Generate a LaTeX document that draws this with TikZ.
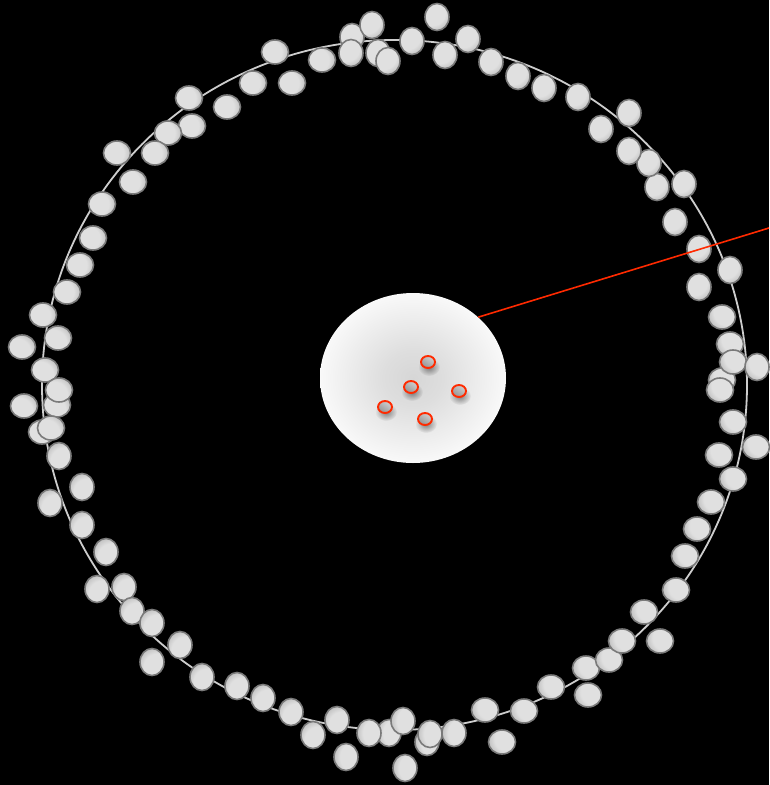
\documentclass[tikz,border=0pt]{standalone}
\usetikzlibrary{shapes.geometric,fadings}

\definecolor{pebblelight}{HTML}{E0E0E0}
\definecolor{pebbledark}{HTML}{7E7E7E}
\definecolor{pebblerim}{HTML}{7A7A7A}
\definecolor{ringgray}{HTML}{CDCDCD}
\definecolor{signalred}{HTML}{FF2A00}

% light face with a darker crescent on one side (rotated by shading angle)
\pgfdeclareradialshading{pebbleshade}{\pgfpoint{0bp}{20bp}}{%
  color(0bp)=(pebblelight); color(26bp)=(pebblelight);
  color(60bp)=(pebbledark); color(80bp)=(pebbledark)}
% soft grey centre fading to white
\pgfdeclareradialshading{coreglow}{\pgfpoint{0bp}{0bp}}{%
  color(0bp)=(black!16); color(8bp)=(black!13);
  color(29bp)=(white); color(50bp)=(white)}
% soft-edged spot for drop shadows
\tikzfading[name=softspot, inner color=transparent!0, outer color=transparent!100]

\tikzset{
  pebble/.style={ellipse, inner sep=0pt, draw=pebblerim, line width=1.6pt,
                 shade, shading=pebbleshade},
  wide/.style={pebble, minimum width=27pt, minimum height=24pt},
  tall/.style={pebble, minimum width=24pt, minimum height=27pt},
  ring/.style={draw=ringgray, line width=1.8pt},
  core/.style={ellipse, inner sep=0pt, minimum width=186pt, minimum height=170pt,
               shade, shading=coreglow},
  seed/.style={ellipse, inner sep=0pt, minimum width=14pt, minimum height=12pt,
               draw=signalred, line width=1.9pt,
               top color=black!18, bottom color=black!42, shading angle=-35},
  pointer/.style={draw=signalred, line width=1.6pt}
}

\begin{document}
\begin{tikzpicture}[x=1pt,y=-1pt]
  \fill[black] (0,0) rectangle (769,785);
  \useasboundingbox (0,0) rectangle (769,785);

  % orbit
  \draw[ring] (394.5,385) ellipse [x radius=352.5, y radius=345];

  % pebbles strung along the orbit, grouped by the side they sit on
  \foreach \x/\y [count=\i] in {275/52,322/60,253/83,292/83,189/98,227/107,192/126,
      168/133,117/153,155/153,133/182,102/204,93/238,80/265,67/292,43/315}
    \node[wide, shading angle=90] (tl\i) at (\x,\y) {};
  \foreach \x/\y [count=\i] in {58/338,22/347,45/370,57/405,59/390,24/406,42/432,51/428}
    \node[wide, shading angle=135] (l\i) at (\x,\y) {};
  \foreach \x/\y [count=\i] in {59/456,82/487,50/503,82/525,106/552,97/589,124/587,
      132/611,152/623,180/645,152/662,202/677,237/686,263/698,291/712,313/735,337/720}
    \node[tall, shading angle=225] (bl\i) at (\x,\y) {};
  \foreach \x/\y [count=\i] in {346/757,389/733,369/733,403/721,427/742,430/734,454/733,405/768}
    \node[tall, shading angle=270] (b\i) at (\x,\y) {};
  \foreach \x/\y [count=\i] in {485/710,502/742,524/711,551/687,588/695,586/668,609/660,
      622/641,660/641,644/612,676/590,685/556,697/529,711/502,733/479}
    \node[wide, shading angle=-60] (br\i) at (\x,\y) {};
  \foreach \x/\y [count=\i] in {719/455,756/447,733/422,722/380,720/390,730/344,733/362,722/317}
    \node[wide, shading angle=-45] (r\i) at (\x,\y) {};
  \node[tall, shading angle=-45] (r9) at (757,367) {};
  \foreach \x/\y [count=\i] in {699/287,730/270,699/249,675/222,684/184,657/187,649/163,
      629/151,601/129,629/113,578/97,544/88,518/76,491/62,468/39,445/55}
    \node[tall, shading angle=45] (tr\i) at (\x,\y) {};
  \foreach \x/\y [count=\i] in {437/17,412/41,352/37,372/25,351/53,378/53,388/61}
    \node[tall, shading angle=45] (t\i) at (\x,\y) {};

  % nucleus and its contents
  \node[core] (core) at (413,378) {};
  \draw[pointer] (core.43) -- (769,228) coordinate (exit);

  \foreach \x/\y [count=\i] in {428/362,411/387,459/391,385/407,425/419}{
    \fill[black, opacity=0.45, path fading=softspot] (\x+1,\y+5) ellipse [x radius=11, y radius=9];
    \node[seed] (s\i) at (\x,\y) {};
  }
\end{tikzpicture}
\end{document}
